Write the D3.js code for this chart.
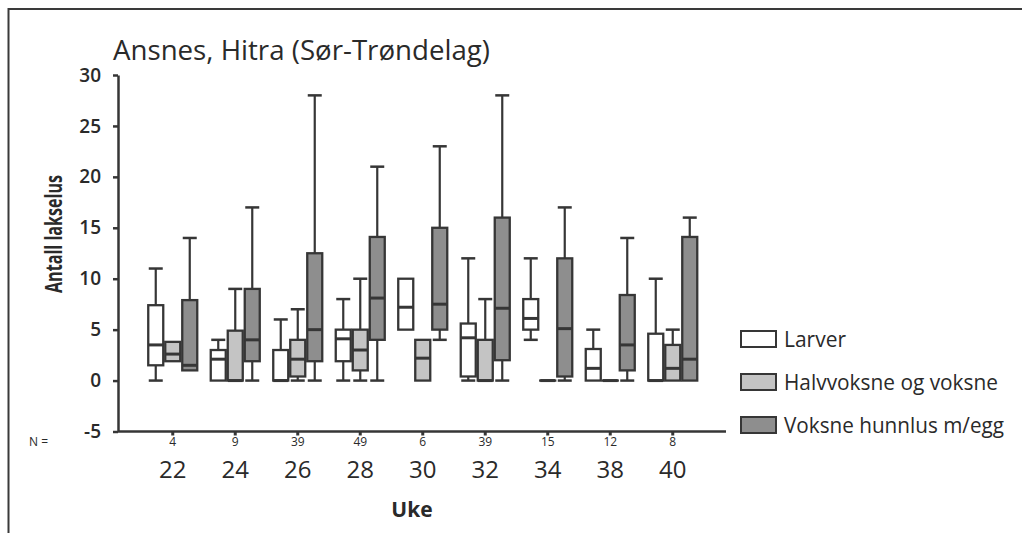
<!DOCTYPE html>
<html>
<head>
<meta charset="utf-8">
<script src="https://cdn.jsdelivr.net/npm/d3@7"></script>
<style>
  html, body { margin: 0; padding: 0; background: #fff; }
  svg { display: block; font-family: "Open Sans", "Noto Sans", sans-serif; }
</style>
</head>
<body>
<svg id="chart" width="1022" height="533"></svg>
<script>
// Weeks (Uke) and number of fish sampled each week
const weeks = ["22", "24", "26", "28", "30", "32", "34", "38", "40"];
const nCounts = [4, 9, 39, 49, 6, 39, 15, 12, 8];
const seriesNames = ["Larver", "Halvvoksne og voksne", "Voksne hunnlus m/egg"];
const yTicks = [-5, 0, 5, 10, 15, 20, 25, 30];

// Larver: min, Q1, median, Q3, max per week
const larverMin = [0, 0, 0, 0, 5, 0, 4, 0, 0];
const larverQ1  = [1.5, 0, 0, 1.9, 5, 0.4, 5, 0, 0];
const larverMed = [3.5, 2.1, 0, 4.1, 7.2, 4.2, 6.1, 1.2, 0];
const larverQ3  = [7.4, 3, 3, 5, 10, 5.6, 8, 3.1, 4.6];
const larverMax = [11, 4, 6, 8, 10, 12, 12, 5, 10];

// Halvvoksne og voksne
const halvMin = [1.9, 0, 0, 0, 0, 0, 0, 0, 0];
const halvQ1  = [1.9, 0, 0.4, 1, 0, 0, 0, 0, 0];
const halvMed = [2.6, 0, 2.1, 3, 2.2, 0, 0, 0, 1.2];
const halvQ3  = [3.8, 4.9, 4, 5, 4, 4, 0, 0, 3.5];
const halvMax = [3.8, 9, 7, 10, 4, 8, 0, 0, 5];

// Voksne hunnlus m/egg
const voksneMin = [1, 0, 0, 0, 4, 0, 0, 0, 0];
const voksneQ1  = [1, 1.9, 1.9, 4, 5, 2, 0.4, 1, 0];
const voksneMed = [1.5, 4, 5, 8.1, 7.5, 7.1, 5.1, 3.5, 2.1];
const voksneQ3  = [7.9, 9, 12.5, 14.1, 15, 16, 12, 8.4, 14.1];
const voksneMax = [14, 17, 28, 21, 23, 28, 17, 14, 16];

const fills = ["#ffffff", "#c4c4c4", "#8e8e8e"];
const ink = "#363636";
const textInk = "#2a2a2a";

const stats = [
  [larverMin, larverQ1, larverMed, larverQ3, larverMax],
  [halvMin, halvQ1, halvMed, halvQ3, halvMax],
  [voksneMin, voksneQ1, voksneMed, voksneQ3, voksneMax]
];

// Flatten into one record per box
const boxes = [];
weeks.forEach((w, i) => {
  seriesNames.forEach((s, j) => {
    const [mn, q1, md, q3, mx] = stats[j];
    boxes.push({ week: w, series: s, si: j, min: mn[i], q1: q1[i], med: md[i], q3: q3[i], max: mx[i] });
  });
});

const svg = d3.select("#chart");

// Outer frame (left and top edges)
svg.append("path")
  .attr("d", "M8.5,533 L8.5,9 L1022,9")
  .attr("fill", "none").attr("stroke", "#3a3a3a").attr("stroke-width", 2);

const axisX = 118;
const x = d3.scaleBand().domain(weeks).range([141.5, 704]).paddingInner(0).paddingOuter(0);
const y = d3.scaleLinear().domain([-5, 30]).range([431.5, 75]);
const sub = d3.scaleBand().domain(seriesNames).range([-25.5, 25.5]);
const boxW = sub.bandwidth();
const capW = 14;

// Title
svg.append("text")
  .attr("x", 113).attr("y", 60)
  .attr("font-size", 27).attr("fill", textInk)
  .attr("textLength", 377).attr("lengthAdjust", "spacingAndGlyphs")
  .text("Ansnes, Hitra (Sør-Trøndelag)");

// Y axis
const yAxis = d3.axisLeft(y).tickValues(yTicks).tickFormat(d => String(d))
  .tickSize(5).tickPadding(12).tickSizeOuter(0);
const gy = svg.append("g").attr("transform", `translate(${axisX},0)`).call(yAxis);
gy.select(".domain").attr("stroke", ink).attr("stroke-width", 2.5);
gy.selectAll(".tick line").attr("stroke", ink).attr("stroke-width", 2.5);
gy.selectAll(".tick text")
  .attr("font-size", 19).attr("font-weight", 600).attr("fill", textInk)
  .attr("font-family", "'Open Sans', sans-serif");

svg.append("text")
  .attr("transform", "translate(62,234) rotate(-90)")
  .attr("text-anchor", "middle")
  .attr("font-size", 23).attr("font-weight", 700).attr("fill", textInk)
  .attr("textLength", 118).attr("lengthAdjust", "spacingAndGlyphs")
  .text("Antall lakselus");

// X axis baseline with category ticks
svg.append("line")
  .attr("x1", axisX).attr("x2", 726)
  .attr("y1", y(-5)).attr("y2", y(-5))
  .attr("stroke", ink).attr("stroke-width", 2.5);
const xAxis = d3.axisBottom(x).tickSize(4).tickFormat("").tickSizeOuter(0);
const gx = svg.append("g").attr("transform", `translate(0,${y(-5)})`).call(xAxis);
gx.select(".domain").remove();
gx.selectAll(".tick line").attr("stroke", ink).attr("stroke-width", 3);

// N row and week labels
svg.append("text")
  .attr("x", 29).attr("y", 446)
  .attr("font-size", 12).attr("fill", textInk)
  .text("N =");
svg.append("g").selectAll("text").data(weeks).join("text")
  .attr("x", d => x(d) + x.bandwidth() / 2)
  .attr("y", 446)
  .attr("text-anchor", "middle")
  .attr("font-size", 12).attr("fill", textInk)
  .text((d, i) => nCounts[i]);
svg.append("g").selectAll("text").data(weeks).join("text")
  .attr("x", d => x(d) + x.bandwidth() / 2)
  .attr("y", 478)
  .attr("text-anchor", "middle")
  .attr("font-size", 24).attr("fill", textInk)
  .text(d => d);

svg.append("text")
  .attr("x", 412).attr("y", 517)
  .attr("text-anchor", "middle")
  .attr("font-size", 21).attr("font-weight", 700).attr("fill", textInk)
  .text("Uke");

// Box plots
const g = svg.append("g").selectAll("g").data(boxes).join("g")
  .attr("transform", d => `translate(${x(d.week) + x.bandwidth() / 2 + sub(d.series)},0)`);

// whiskers
g.append("line")
  .attr("x1", boxW / 2).attr("x2", boxW / 2)
  .attr("y1", d => y(d.max)).attr("y2", d => y(d.q3))
  .attr("stroke", ink).attr("stroke-width", 2.2);
g.append("line")
  .attr("x1", boxW / 2).attr("x2", boxW / 2)
  .attr("y1", d => y(d.q1)).attr("y2", d => y(d.min))
  .attr("stroke", ink).attr("stroke-width", 2.2);
g.filter(d => d.max > d.q3).append("line")
  .attr("x1", boxW / 2 - capW / 2).attr("x2", boxW / 2 + capW / 2)
  .attr("y1", d => y(d.max)).attr("y2", d => y(d.max))
  .attr("stroke", ink).attr("stroke-width", 2.5);
g.filter(d => d.min < d.q1).append("line")
  .attr("x1", boxW / 2 - capW / 2).attr("x2", boxW / 2 + capW / 2)
  .attr("y1", d => y(d.min)).attr("y2", d => y(d.min))
  .attr("stroke", ink).attr("stroke-width", 2.5);

// boxes
g.append("rect")
  .attr("x", 1).attr("width", boxW - 2)
  .attr("y", d => y(d.q3))
  .attr("height", d => Math.max(0.01, y(d.q1) - y(d.q3)))
  .attr("fill", d => fills[d.si])
  .attr("stroke", ink).attr("stroke-width", 2.3);

// medians
g.append("line")
  .attr("x1", 1).attr("x2", boxW - 1)
  .attr("y1", d => y(d.med)).attr("y2", d => y(d.med))
  .attr("stroke", ink).attr("stroke-width", 3);

// Legend
const legend = svg.append("g").selectAll("g").data(seriesNames).join("g")
  .attr("transform", (d, i) => `translate(741,${331 + i * 43})`);
legend.append("rect")
  .attr("width", 35).attr("height", 16)
  .attr("fill", (d, i) => fills[i])
  .attr("stroke", ink).attr("stroke-width", 2);
const legendLen = [62, 214, 220];
legend.append("text")
  .attr("x", 43).attr("y", 16)
  .attr("font-size", 21).attr("fill", textInk)
  .attr("textLength", (d, i) => legendLen[i]).attr("lengthAdjust", "spacingAndGlyphs")
  .text(d => d);
</script>
</body>
</html>
